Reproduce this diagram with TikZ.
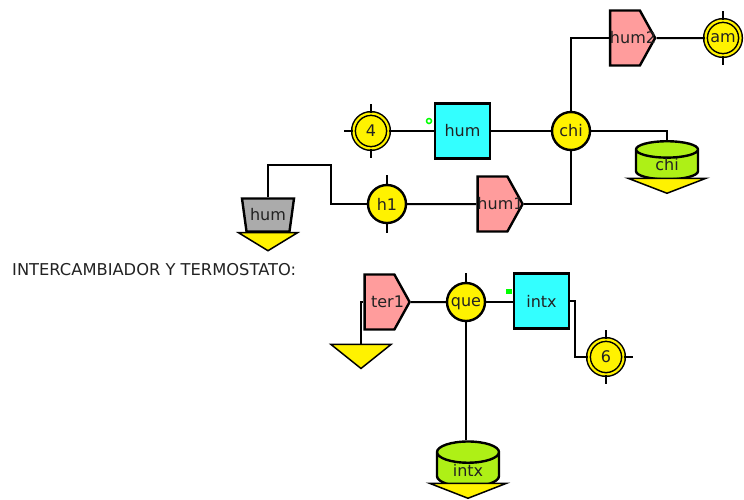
\documentclass[tikz,border=0pt]{standalone}
\usepackage{fontspec}
\setmainfont{DejaVu Sans}
\usetikzlibrary{shapes, shapes.geometric, shapes.symbols}
\definecolor{boxcyan}{HTML}{33FFFF}
\definecolor{tagpink}{HTML}{FF9C9C}
\definecolor{tanklime}{HTML}{AEF016}
\definecolor{txtgray}{HTML}{222222}
\newcommand{\tagtext}[1]{\makebox[0pt]{\hspace{16pt}#1}}
\tikzset{
    wire/.style={line width=2pt},
    sym/.style={draw, line width=2.4pt, inner sep=0pt, text=txtgray, font=\fontsize{16}{18}\selectfont},
    port/.style={sym, circle, fill=yellow, minimum size=38pt},
    dport/.style={sym, circle, fill=yellow, minimum size=35pt, line width=1.5pt, double=yellow, double distance=2.2pt},
    block/.style={sym, rectangle, fill=boxcyan, minimum size=55pt},
    tag/.style={sym, signal, signal to=east, signal from=nowhere, signal pointer angle=122, fill=tagpink, minimum width=45pt, minimum height=55pt},
    tank/.style={sym, cylinder, shape border rotate=90, aspect=0.7, fill=tanklime, cylinder uses custom fill, cylinder body fill=tanklime, cylinder end fill=tanklime, minimum width=62pt, minimum height=17pt},
    drain/.style={sym, fill=yellow, isosceles triangle, isosceles triangle stretches, shape border rotate=-90, line width=1.5pt}
}
\begin{document}
\begin{tikzpicture}[x=1pt, y=-1pt]
    \useasboundingbox (0,0) rectangle (744,499);

    \node[inner sep=0pt, anchor=west, text=txtgray, font=\fontsize{16.3}{18}\selectfont] (title) at (12,270) {INTERCAMBIADOR Y TERMOSTATO:};

    \node[dport] (n4) at (371,131) {4};
    \node[dport] (am) at (723,38) {am};
    \node[dport] (n6) at (606,357) {6};
    \node[port] (chi) at (571,131) {chi};
    \node[port] (h1) at (387,204) {h1};
    \node[port] (que) at (466,302) {\raisebox{-4pt}[0pt][0pt]{que}};

    \node[block] (hum) at (462.5,131) {hum};
    \node[block] (intx) at (541.5,301) {intx};

    \node[tag] (hum2) at (625,38) {\tagtext{hum2}};
    \node[tag] (hum1) at (492.5,204) {\tagtext{hum1}};
    \node[tag] (ter1) at (379.5,302) {\tagtext{ter1}};

    \node[tank] (tchi) at (667,165) {chi};
    \node[tank] (tintx) at (468,470) {intx};
    \node[sym, trapezium, shape border rotate=180, trapezium stretches body=true, trapezium left angle=70, trapezium right angle=70, fill=black!33, minimum width=52pt, minimum height=33pt] (thum) at (268,215) {\makebox[0pt]{hum}};

    \node[drain, minimum width=78pt, minimum height=15pt] (dchi) at (667,185.5) {};
    \node[drain, minimum width=77pt, minimum height=15pt] (dintx) at (468,490.5) {};
    \node[drain, minimum width=59pt, minimum height=18pt] (dhum) at (268,241) {};
    \node[drain, minimum width=60pt, minimum height=24pt] (dter) at (361,355) {};

    \node[draw=green, line width=1.5pt, circle, inner sep=0pt, minimum size=5pt] (mark1) at (429,121) {};
    \node[fill=green, inner sep=0pt, minimum width=6pt, minimum height=5pt] (mark2) at (509,291) {};

    \draw[wire] (n4) -- (hum);
    \draw[wire] (hum) -- (chi);
    \draw[wire] (chi) |- (hum2);
    \draw[wire] (chi) |- (hum1);
    \draw[wire] (hum1) -- (h1);
    \draw[wire] (hum2) -- (am);
    \draw[wire] (chi) -| (tchi.north);
    \draw[wire] (thum.north) |- (331,165) |- (h1);
    \draw[wire] (dter.north) |- (ter1);
    \draw[wire] (ter1) -- (que);
    \draw[wire] (que) -- (que -| intx.west);
    \draw[wire] (intx.east) -| (575,357) -- (n6);
    \draw[wire] (que) -- (que |- tintx.north);

    % stubs on the ports
    \foreach \n in {n4, am, n6, h1, que} {
        \draw[wire] (\n.north) -- ++(0,-9);
    }
    \foreach \n in {n4, am, n6, h1} {
        \draw[wire] (\n.south) -- ++(0,9);
    }
    \draw[wire] (n4.west) -- ++(-9,0);
    \draw[wire] (n6.east) -- ++(9,0);
\end{tikzpicture}
\end{document}
